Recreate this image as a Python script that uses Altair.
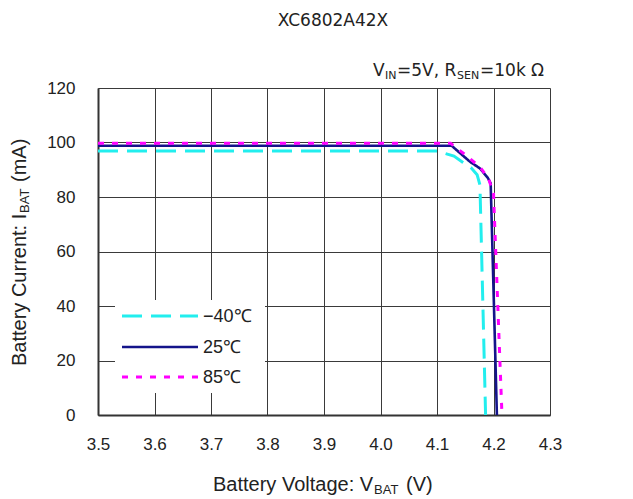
import altair as alt
import pandas as pd

# Charge characteristics: battery current vs battery voltage at three temperatures
series_names = ["−40℃", "25℃", "85℃"]

v_m40 = [3.50, 4.100, 4.130, 4.146, 4.160, 4.171, 4.176, 4.186]
i_m40 = [96.9, 96.9, 95.0, 92.7, 90.8, 88.2, 84.4, 0.0]

v_25 = [3.50, 4.126, 4.158, 4.176, 4.190, 4.195, 4.206]
i_25 = [98.8, 98.8, 93.0, 90.5, 87.0, 85.0, 0.0]

v_85 = [3.50, 4.124, 4.150, 4.176, 4.191, 4.200, 4.215]
i_85 = [99.7, 99.7, 95.5, 91.0, 86.8, 81.4, 0.0]

x_ticks = [3.5, 3.6, 3.7, 3.8, 3.9, 4.0, 4.1, 4.2, 4.3]
y_ticks = [0, 20, 40, 60, 80, 100, 120]

colors = ["#22EEEE", "#14148A", "#FF00FF"]
dashes = [[20, 9], [1, 0], [6, 8]]
widths = [3, 2.6, 3]

rows = []
for name, vs, cs in zip(series_names, [v_m40, v_25, v_85], [i_m40, i_25, i_85]):
    for k, (v, c) in enumerate(zip(vs, cs)):
        rows.append({"series": name, "v": v, "i": c, "k": k})
df = pd.DataFrame(rows)

W, H = 452, 327
FONT = "Liberation Sans"
WIDE = "DejaVu Sans"

x_enc = alt.X(
    "v:Q",
    scale=alt.Scale(domain=[3.5, 4.3], nice=False, zero=False),
    axis=alt.Axis(values=x_ticks, format=".1f", title=None, ticks=False, tickSize=0,
                  labelPadding=21, labelFontSize=17, labelFont=FONT, labelColor="#222",
                  domainColor="#333", domainWidth=2, gridColor="#3a3a3a", gridWidth=1,
                  gridOpacity=1, labelFlush=False),
)
y_enc = alt.Y(
    "i:Q",
    scale=alt.Scale(domain=[0, 120], nice=False),
    axis=alt.Axis(values=y_ticks, title=None, ticks=False, tickSize=0,
                  labelPadding=23, labelFontSize=17, labelFont=FONT, labelColor="#222",
                  domainColor="#333", domainWidth=2, gridColor="#3a3a3a", gridWidth=1,
                  gridOpacity=1),
)

layers = []
for name, col, dash, sw in zip(series_names, colors, dashes, widths):
    layers.append(
        alt.Chart(df[df["series"] == name])
        .mark_line(color=col, strokeDash=dash, strokeWidth=sw, clip=True)
        .encode(x=x_enc, y=y_enc, order="k:Q")
    )

# Legend box inside the plot, bottom left
legend_box = alt.Chart(df.head(1)).mark_rect(fill="white", stroke=None).encode(
    x=alt.value(17), x2=alt.value(167), y=alt.value(212), y2=alt.value(305)
)
layers.append(legend_box)

legend_rows_y = [228, 259, 289]
for name, col, dash, sw, ly in zip(series_names, colors, dashes, widths, legend_rows_y):
    layers.append(
        alt.Chart(df.head(1)).mark_rule(color=col, strokeDash=dash, strokeWidth=sw).encode(
            x=alt.value(24), x2=alt.value(100), y=alt.value(ly)
        )
    )
    layers.append(
        alt.Chart(df.head(1)).mark_text(text=name, align="left", baseline="middle",
                                         fontSize=18, font=FONT, color="#222").encode(
            x=alt.value(105), y=alt.value(ly + 1)
        )
    )


def label(text, x, y, size, align="left", angle=0, font=FONT):
    props = dict(text=text, align=align, baseline="alphabetic", fontSize=size,
                 font=font, color="#222")
    if angle:
        props["angle"] = angle
    return alt.Chart(df.head(1)).mark_text(**props).encode(x=alt.value(x), y=alt.value(y))


# Title
layers.append(label("XC6802A42X", 235, -62, 17, align="center", font=WIDE))

# Test conditions
layers += [
    label("V", 275, -12, 17, font=WIDE),
    label("IN", 287, -9, 11, font=WIDE),
    label("=5V, R", 299, -12, 17, font=WIDE),
    label("SEN", 359, -9, 11, font=WIDE),
    label("=10k", 382, -12, 17, font=WIDE),
    label("Ω", 433, -12, 17, font=WIDE),
]

# X axis title
layers += [
    label("Battery Voltage: V", 115, 403, 20),
    label("BAT", 276, 406, 13),
    label("(V)", 308, 403, 20),
]

# Y axis title (rotated)
layers += [
    label("Battery Current: I", -72, 278, 20, angle=270),
    label("BAT", -69, 125, 13, angle=270),
    label("(mA)", -72, 94, 20, angle=270),
]

chart = (
    alt.layer(*layers)
    .properties(width=W, height=H,
                autosize=alt.AutoSizeParams(type="none"),
                padding={"left": 98, "top": 88, "right": 83, "bottom": 84})
    .configure_view(stroke="#555", strokeWidth=1.5)
    .configure(background="white")
)

chart.save("out.html", embed_options={"renderer": "svg", "actions": False})
